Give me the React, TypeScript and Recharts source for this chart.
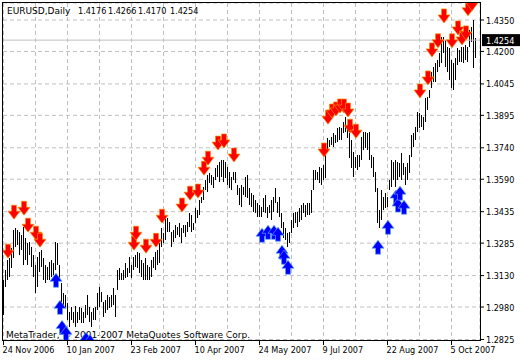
import React from 'react';
import { ComposedChart, Bar, Scatter, XAxis, YAxis, CartesianGrid, ReferenceLine } from 'recharts';

// Daily bar highs / lows (EURUSD), one per trading day
const barHigh = [
  1.3108, 1.3155, 1.3203, 1.3213, 1.3261, 1.3347, 1.3356, 1.3347, 1.3337, 1.3323,
  1.3361, 1.3308, 1.3284, 1.3289, 1.3265, 1.3227, 1.3179, 1.3218, 1.3241, 1.3251,
  1.3213, 1.3179, 1.3170, 1.3194, 1.3203, 1.3189, 1.3289, 1.3284, 1.3179, 1.3093,
  1.3045, 1.3036, 1.2998, 1.2955, 1.2979, 1.2955, 1.2983, 1.2955, 1.2979, 1.2974,
  1.2955, 1.2988, 1.3036, 1.2979, 1.2955, 1.2974, 1.2979, 1.3045, 1.3074, 1.3050,
  1.3002, 1.3012, 1.3036, 1.3026, 1.3036, 1.3069, 1.3036, 1.3155, 1.3165, 1.3141,
  1.3155,
  1.3189, 1.3165, 1.3218, 1.3179, 1.3218, 1.3227, 1.3241, 1.3237, 1.3203, 1.3189,
  1.3213, 1.3179, 1.3170, 1.3203, 1.3218, 1.3241, 1.3251, 1.3284, 1.3356, 1.3332,
  1.3409, 1.3404, 1.3385, 1.3337, 1.3347, 1.3371, 1.3361, 1.3380, 1.3356, 1.3371,
  1.3371, 1.3385, 1.3428, 1.3418, 1.3380, 1.3452, 1.3442, 1.3490, 1.3504, 1.3552,
  1.3586, 1.3610, 1.3619, 1.3610, 1.3600, 1.3643, 1.3657, 1.3672, 1.3681, 1.3681,
  1.3672, 1.3648, 1.3624, 1.3600, 1.3624, 1.3624, 1.3562, 1.3547, 1.3562, 1.3552,
  1.3600, 1.3610, 1.3547, 1.3523, 1.3514, 1.3490, 1.3476, 1.3466, 1.3457, 1.3500,
  1.3514, 1.3457, 1.3466, 1.3490, 1.3504, 1.3547, 1.3481, 1.3504, 1.3428, 1.3385,
  1.3356, 1.3332, 1.3337, 1.3394, 1.3428, 1.3433, 1.3433, 1.3452, 1.3466, 1.3476,
  1.3466, 1.3476, 1.3476, 1.3538, 1.3633, 1.3633, 1.3624, 1.3648, 1.3643, 1.3657,
  1.3705, 1.3786, 1.3777, 1.3791, 1.3810, 1.3801, 1.3834, 1.3839, 1.3834, 1.3863,
  1.3887, 1.3848, 1.3810, 1.3777, 1.3719, 1.3696, 1.3705, 1.3705, 1.3791,
  1.3815, 1.3815, 1.3810, 1.3815, 1.3705, 1.3696, 1.3624, 1.3547, 1.3442, 1.3538,
  1.3504, 1.3523, 1.3504, 1.3586, 1.3681, 1.3672, 1.3681, 1.3672, 1.3667, 1.3715,
  1.3667, 1.3648, 1.3667, 1.3705, 1.3801, 1.3810, 1.3839, 1.3911, 1.3906, 1.3896,
  1.3887, 1.3978, 1.3982, 1.4016, 1.4102, 1.4126, 1.4145, 1.4159, 1.4193, 1.4269,
  1.4269, 1.4255, 1.4221, 1.4217, 1.4159, 1.4145, 1.4169, 1.4217, 1.4207, 1.4221,
  1.4221, 1.4231, 1.4221, 1.4303, 1.4317, 1.4350, 1.4266,
];

const barLow = [
  1.2940, 1.3074, 1.3108, 1.3122, 1.3165, 1.3213, 1.3265, 1.3275, 1.3227, 1.3251,
  1.3179, 1.3203, 1.3179, 1.3227, 1.3170, 1.3122, 1.3045, 1.3074, 1.3146, 1.3170,
  1.3108, 1.3093, 1.3108, 1.3108, 1.3122, 1.3131, 1.3155, 1.3179, 1.3108, 1.3002,
  1.2988, 1.2974, 1.2916, 1.2883, 1.2916, 1.2902, 1.2883, 1.2902, 1.2916, 1.2902,
  1.2902, 1.2926, 1.2940, 1.2907, 1.2883, 1.2916, 1.2916, 1.2964, 1.2979, 1.3002,
  1.2931, 1.2950, 1.2964, 1.2974, 1.2979, 1.2988, 1.2931, 1.3060, 1.3108, 1.3108,
  1.3108,
  1.3117, 1.3122, 1.3141, 1.3117, 1.3155, 1.3170, 1.3165, 1.3141, 1.3122, 1.3108,
  1.3108, 1.3108, 1.3108, 1.3122, 1.3165, 1.3155, 1.3179, 1.3189, 1.3265, 1.3284,
  1.3299, 1.3337, 1.3337, 1.3265, 1.3289, 1.3308, 1.3323, 1.3313, 1.3284, 1.3332,
  1.3313, 1.3337, 1.3361, 1.3337, 1.3347, 1.3380, 1.3404, 1.3418, 1.3476, 1.3490,
  1.3538, 1.3528, 1.3571, 1.3562, 1.3547, 1.3586, 1.3600, 1.3576, 1.3600, 1.3576,
  1.3595, 1.3562, 1.3547, 1.3538, 1.3586, 1.3571, 1.3514, 1.3466, 1.3457, 1.3514,
  1.3504, 1.3500, 1.3466, 1.3457, 1.3433, 1.3428, 1.3409, 1.3409, 1.3409, 1.3433,
  1.3428, 1.3404, 1.3428, 1.3394, 1.3433, 1.3476, 1.3428, 1.3409, 1.3356, 1.3308,
  1.3299, 1.3265, 1.3284, 1.3332, 1.3356, 1.3380, 1.3361, 1.3385, 1.3394, 1.3428,
  1.3409, 1.3418, 1.3418, 1.3428, 1.3538, 1.3586, 1.3586, 1.3571, 1.3562, 1.3586,
  1.3595, 1.3719, 1.3743, 1.3753, 1.3743, 1.3762, 1.3767, 1.3777, 1.3777, 1.3810,
  1.3815, 1.3786, 1.3691, 1.3643, 1.3600, 1.3643, 1.3633, 1.3648, 1.3681,
  1.3729, 1.3739, 1.3729, 1.3681, 1.3643, 1.3600, 1.3528, 1.3380, 1.3356, 1.3394,
  1.3442, 1.3452, 1.3457, 1.3538, 1.3552, 1.3586, 1.3552, 1.3586, 1.3600, 1.3586,
  1.3610, 1.3562, 1.3586, 1.3619, 1.3696, 1.3743, 1.3777, 1.3815, 1.3834, 1.3839,
  1.3825, 1.3863, 1.3920, 1.3978, 1.4025, 1.4054, 1.4054, 1.4102, 1.4126, 1.4145,
  1.4193, 1.4126, 1.4102, 1.4064, 1.4025, 1.4016, 1.4064, 1.4135, 1.4150, 1.4150,
  1.4145, 1.4159, 1.4150, 1.4221, 1.4245, 1.4121, 1.4170,
];

// Sell signals (red down arrows): bar index and price of the arrow tip
const sellBar = [2, 5, 10, 12, 16, 18, 65, 66, 71, 76, 79, 89, 93, 97, 100, 102, 107, 110, 115,
  160, 162, 164, 166, 168, 170, 172, 173, 176, 208, 212, 214, 217, 220, 224, 227, 229, 231, 232, 234];
const sellPrice = [1.3213, 1.3399, 1.3418, 1.3337, 1.3299, 1.3265, 1.3251, 1.3299, 1.3237, 1.3265,
  1.3380, 1.3433, 1.3490, 1.3500, 1.3609, 1.3657, 1.3729, 1.3739, 1.3672,
  1.3696, 1.3853, 1.3882, 1.3892, 1.3906, 1.3906, 1.3887, 1.3810, 1.3786,
  1.3978, 1.4040, 1.4174, 1.4217, 1.4336, 1.4217, 1.4279, 1.4231, 1.4255, 1.4370, 1.4394];

// Buy signals (blue up arrows)
const buyBar = [26, 28, 29, 31, 41, 43, 129, 132, 135, 137, 139, 140, 142, 187, 192, 196, 197, 198, 200];
const buyPrice = [1.3141, 1.3012, 1.2916, 1.2888, 1.2859, 1.2849, 1.3356, 1.3370, 1.3370, 1.3361,
  1.3275, 1.3251, 1.3203, 1.3299, 1.3394, 1.3538, 1.3500, 1.3557, 1.3490];

const priceTicks = [1.4350, 1.4200, 1.4045, 1.3895, 1.3740, 1.3590, 1.3435, 1.3285, 1.3130, 1.2980, 1.2825];
const gridBars = [0, 16, 32, 48, 64, 80, 96, 112, 128, 144, 160, 176, 192, 208, 224];
const dateLabelBars = [0, 32, 64, 96, 128, 160, 192, 224];
const dateLabels = ['24 Nov 2006', '10 Jan 2007', '23 Feb 2007', '10 Apr 2007', '24 May 2007', '9 Jul 2007', '22 Aug 2007', '5 Oct 2007'];
const lastPrice = 1.4254;
const symbolText = 'EURUSD,Daily';
const ohlcValues = ['1.4176', '1.4266', '1.4170', '1.4254'];
const copyrightText = 'MetaTrader, \u00A9 2001-2007 MetaQuotes Software Corp.';

const FONT = "'DejaVu Sans Condensed', 'DejaVu Sans', sans-serif";
const FONT_WIDE = "'DejaVu Sans', sans-serif";
const FS = 9;

const data = barHigh.map((h, i) => ({ i, range: [barLow[i], h] }));
const sellData = sellBar.map((b, k) => ({ i: b, p: sellPrice[k] }));
const buyData = buyBar.map((b, k) => ({ i: b, p: buyPrice[k] }));
// offset ticks by a quarter bar so 1px grid lines land on pixel centres
const gridTicks = gridBars.map((b) => b - 0.25);

const DateTick = (props: any) => {
  const { x, payload } = props;
  const idx = dateLabelBars.indexOf(Math.round(payload.value));
  if (idx < 0) return <g />;
  return (
    <g>
      <line x1={x} x2={x} y1={340} y2={345} stroke="#000" strokeWidth={1} />
      <text x={x - 1} y={353} fontFamily={FONT} fontSize={FS} fill="#000" textAnchor="start">
        {dateLabels[idx]}
      </text>
    </g>
  );
};

const PriceTick = (props: any) => {
  const { y, payload } = props;
  return (
    <g>
      <line x1={481} x2={484} y1={y} y2={y} stroke="#000" strokeWidth={1} />
      <text x={486} y={y + 3.5} fontFamily={FONT} fontSize={FS} fill="#000" textAnchor="start">
        {payload.value.toFixed(4)}
      </text>
    </g>
  );
};

const PriceTag = (props: any) => {
  const vb = props.viewBox || {};
  const y = vb.y ?? 0;
  const right = (vb.x ?? 0) + (vb.width ?? 0);
  return (
    <g>
      <rect x={right + 2} y={y - 6} width={40} height={12} fill="#000" />
      <text x={right + 6} y={y + 3.5} fontFamily={FONT} fontSize={FS} fill="#fff">
        {lastPrice.toFixed(4)}
      </text>
    </g>
  );
};

const RedArrow = (props: any) => {
  const { cx, cy } = props;
  if (cx == null || cy == null) return <g />;
  const pts = [
    [cx - 2.5, cy - 14], [cx + 2.5, cy - 14], [cx + 2.5, cy - 8], [cx + 6, cy - 8],
    [cx, cy], [cx - 6, cy - 8], [cx - 2.5, cy - 8],
  ].map((p) => p.join(',')).join(' ');
  return <polygon points={pts} fill="#ff0000" stroke="#ff8a00" strokeWidth={0.7} strokeLinejoin="miter" />;
};

const BlueArrow = (props: any) => {
  const { cx, cy } = props;
  if (cx == null || cy == null) return <g />;
  const pts = [
    [cx - 2.5, cy + 14], [cx + 2.5, cy + 14], [cx + 2.5, cy + 8], [cx + 6, cy + 8],
    [cx, cy], [cx - 6, cy + 8], [cx - 2.5, cy + 8],
  ].map((p) => p.join(',')).join(' ');
  return <polygon points={pts} fill="#0000ff" stroke="#5aa0ff" strokeWidth={0.7} strokeLinejoin="miter" />;
};

export default function App() {
  return (
    <div style={{ position: 'absolute', left: 0, top: 0, width: 520, height: 360, background: '#fff', overflow: 'hidden' }}>
      <svg width={520} height={360} style={{ position: 'absolute', left: 0, top: 0 }}>
        <text x={6} y={338} fontFamily={FONT_WIDE} fontSize={FS} fill="#000">{copyrightText}</text>
      </svg>
      <div style={{ position: 'absolute', left: 0, top: 0 }}>
        <ComposedChart width={520} height={360} data={data} margin={{ top: 3, right: 0, bottom: 0, left: 3 }}>
          <CartesianGrid stroke="#c0c0c0" strokeDasharray="4 3" />
          <XAxis
            dataKey="i"
            type="number"
            domain={[-0.5, 238]}
            ticks={gridTicks}
            interval={0}
            tick={DateTick}
            tickLine={false}
            axisLine={false}
            tickSize={0}
            tickMargin={0}
            height={20}
          />
          <YAxis
            orientation="right"
            type="number"
            domain={[1.28226, 1.44312]}
            ticks={priceTicks}
            interval={0}
            tick={PriceTick}
            tickLine={false}
            axisLine={false}
            tickSize={0}
            tickMargin={0}
            width={40}
            allowDataOverflow
          />
          <ReferenceLine y={lastPrice} stroke="#c0c0c0" strokeWidth={1} label={PriceTag} />
          <Bar dataKey="range" fill="#000" barSize={1} shapeRendering="crispEdges" isAnimationActive={false} />
          <Scatter data={sellData} dataKey="p" shape={RedArrow} isAnimationActive={false} />
          <Scatter data={buyData} dataKey="p" shape={BlueArrow} isAnimationActive={false} />
        </ComposedChart>
      </div>
      <svg width={520} height={360} style={{ position: 'absolute', left: 0, top: 0, pointerEvents: 'none' }}>
        <rect x={2.5} y={2.5} width={478} height={338} fill="none" stroke="#000" strokeWidth={1} />
        <text y={14} fontFamily={FONT} fontSize={FS} fill="#000">
          <tspan x={7} fontFamily={FONT_WIDE}>{symbolText}</tspan>
          <tspan x={78}>{ohlcValues[0]}</tspan>
          <tspan x={108}>{ohlcValues[1]}</tspan>
          <tspan x={138}>{ohlcValues[2]}</tspan>
          <tspan x={170}>{ohlcValues[3]}</tspan>
        </text>
      </svg>
    </div>
  );
}
